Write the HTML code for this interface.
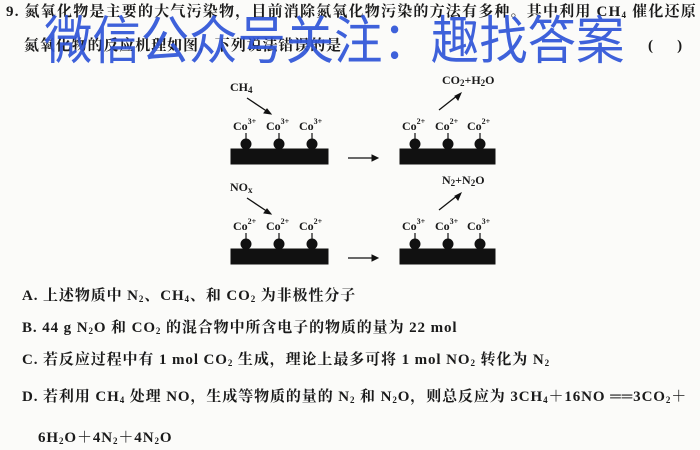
<!DOCTYPE html>
<html><head><meta charset="utf-8"><style>
body{margin:0;width:700px;height:448px;background:#fbfbf9;position:relative;overflow:hidden;font-family:"Liberation Serif","Noto Serif CJK SC",serif;color:#1a1a1a}
.t{position:absolute;font-size:15px;white-space:nowrap;font-weight:bold;line-height:18px;letter-spacing:0.9px}
sub{font-size:9px;vertical-align:-2px}
sup{font-size:8px;vertical-align:6px}
.wm{position:absolute;left:44px;top:8px;font-family:"Noto Sans CJK SC",sans-serif;font-size:52px;color:#2f55d8;white-space:nowrap;transform:scaleX(0.93);transform-origin:left top;line-height:58px;opacity:.92}
.d{position:absolute;font-size:12px;white-space:nowrap;font-weight:bold}
</style></head><body>
<div class="t" style="left:6px;top:3px;letter-spacing:1.2px">9. 氮氧化物是主要的大气污染物，目前消除氮氧化物污染的方法有多种。其中利用 CH<sub>4</sub> 催化还原</div>
<div class="t" style="left:24px;top:37px">氮氧化物的反应机理如图，下列说法错误的是</div>
<div class="t" style="left:648px;top:37px">(&nbsp;&nbsp;&nbsp;&nbsp;&nbsp;)</div>
<div class="wm">微信公众号关注：趣找答案</div>

<svg style="position:absolute;left:0;top:0" width="700" height="448">
<g fill="#111" stroke="#111">
<rect x="231" y="149" width="97" height="15"/><rect x="400" y="149" width="95" height="15"/>
<rect x="231" y="249" width="97" height="15"/><rect x="400" y="249" width="95" height="15"/>
<g stroke-width="1.2">
<line x1="246" y1="133" x2="246" y2="143"/><line x1="279" y1="133" x2="279" y2="143"/><line x1="312" y1="133" x2="312" y2="143"/>
<line x1="415" y1="133" x2="415" y2="143"/><line x1="448" y1="133" x2="448" y2="143"/><line x1="480" y1="133" x2="480" y2="143"/>
<line x1="246" y1="233" x2="246" y2="243"/><line x1="279" y1="233" x2="279" y2="243"/><line x1="312" y1="233" x2="312" y2="243"/>
<line x1="415" y1="233" x2="415" y2="243"/><line x1="448" y1="233" x2="448" y2="243"/><line x1="480" y1="233" x2="480" y2="243"/>
</g>
<circle cx="246" cy="144" r="5"/><circle cx="279" cy="144" r="5"/><circle cx="312" cy="144" r="5"/>
<circle cx="415" cy="144" r="5"/><circle cx="448" cy="144" r="5"/><circle cx="480" cy="144" r="5"/>
<circle cx="246" cy="244" r="5"/><circle cx="279" cy="244" r="5"/><circle cx="312" cy="244" r="5"/>
<circle cx="415" cy="244" r="5"/><circle cx="448" cy="244" r="5"/><circle cx="480" cy="244" r="5"/>
<g stroke-width="1.3">
<line x1="348" y1="158" x2="374" y2="158"/><line x1="348" y1="258" x2="374" y2="258"/>
<line x1="247" y1="98" x2="268" y2="112"/><line x1="247" y1="198" x2="268" y2="212"/>
<line x1="439" y1="110" x2="458" y2="95"/><line x1="439" y1="210" x2="458" y2="195"/>
</g>
<path d="M378 158l-6-3v6z M378 258l-6-3v6z M271 114l-7-1 3-4z M271 214l-7-1 3-4z M461 93l-3 7-3-4z M461 193l-3 7-3-4z"/>
</g></svg>
<div class="d" style="left:230px;top:80px">CH<sub>4</sub></div>
<div class="d" style="left:230px;top:180px">NO<sub>x</sub></div>
<div class="d" style="left:442px;top:73px">CO<sub>2</sub>+H<sub>2</sub>O</div>
<div class="d" style="left:442px;top:173px">N<sub>2</sub>+N<sub>2</sub>O</div>
<div class="d" style="left:233px;top:117px">Co<sup>3+</sup></div><div class="d" style="left:266px;top:117px">Co<sup>3+</sup></div><div class="d" style="left:299px;top:117px">Co<sup>3+</sup></div>
<div class="d" style="left:402px;top:117px">Co<sup>2+</sup></div><div class="d" style="left:435px;top:117px">Co<sup>2+</sup></div><div class="d" style="left:467px;top:117px">Co<sup>2+</sup></div>
<div class="d" style="left:233px;top:217px">Co<sup>2+</sup></div><div class="d" style="left:266px;top:217px">Co<sup>2+</sup></div><div class="d" style="left:299px;top:217px">Co<sup>2+</sup></div>
<div class="d" style="left:402px;top:217px">Co<sup>3+</sup></div><div class="d" style="left:435px;top:217px">Co<sup>3+</sup></div><div class="d" style="left:467px;top:217px">Co<sup>3+</sup></div>

<div class="t" style="left:22px;top:287px">A. 上述物质中 N<sub>2</sub>、CH<sub>4</sub>、和 CO<sub>2</sub> 为非极性分子</div>
<div class="t" style="left:22px;top:319px">B. 44 g N<sub>2</sub>O 和 CO<sub>2</sub> 的混合物中所含电子的物质的量为 22 mol</div>
<div class="t" style="left:22px;top:351px">C. 若反应过程中有 1 mol CO<sub>2</sub> 生成，理论上最多可将 1 mol NO<sub>2</sub> 转化为 N<sub>2</sub></div>
<div class="t" style="left:22px;top:388px">D. 若利用 CH<sub>4</sub> 处理 NO，生成等物质的量的 N<sub>2</sub> 和 N<sub>2</sub>O，则总反应为 3CH<sub>4</sub>＋16NO ══3CO<sub>2</sub>＋</div>
<div class="t" style="left:38px;top:429px">6H<sub>2</sub>O＋4N<sub>2</sub>＋4N<sub>2</sub>O</div>
</body></html>
